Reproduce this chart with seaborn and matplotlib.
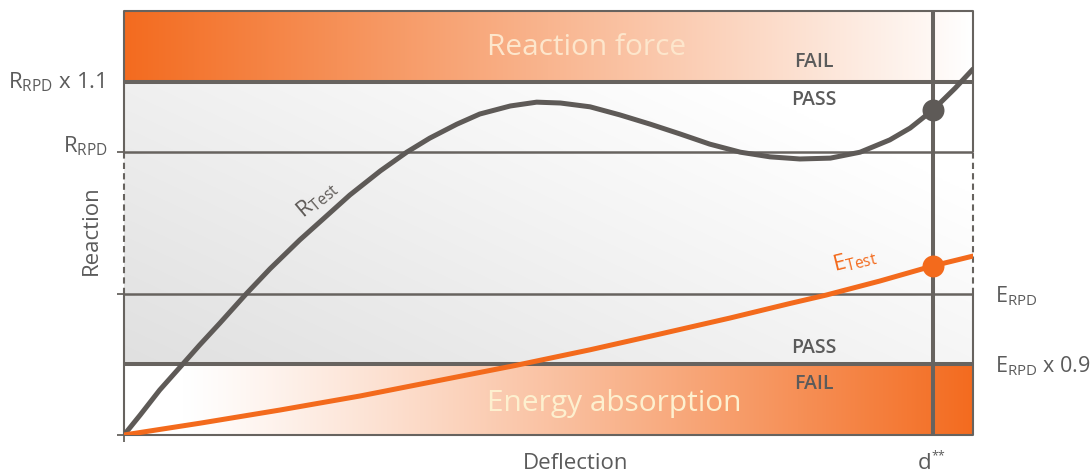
import numpy as np
import pandas as pd
import matplotlib
matplotlib.use("Agg")
import matplotlib.pyplot as plt
import seaborn as sns

# ---- data -------------------------------------------------------------
# Reaction curve R_Test (deflection in % of range, reaction in % of axis)
r_deflection = [0, 1.9, 4.2, 6.6, 8.9, 11.3, 14.4, 17.2, 20.7, 23.6, 26.6,
                30.2, 33.3, 36.0, 39.2, 41.9, 45.5, 48.6, 51.4, 54.9, 58.4,
                62.0, 65.5, 69.0, 72.6, 76.1, 79.6, 83.2, 86.7, 90.2, 92.6,
                95.3, 97.9, 100]
r_reaction = [0, 4.7, 10.6, 16.0, 21.2, 26.4, 33.3, 39.2, 46.0, 51.2, 56.6,
              62.3, 66.7, 70.0, 73.3, 75.7, 77.6, 78.5, 78.3, 77.4, 75.5,
              73.3, 71.0, 68.6, 66.7, 65.6, 65.1, 65.3, 66.7, 69.6, 72.4,
              76.7, 81.8, 86.3]

# Energy curve E_Test
e_deflection = [0, 9.0, 18.4, 27.8, 37.2, 46.1, 54.9, 63.1, 71.4, 78.4,
                82.7, 89.0, 95.3, 100]
e_energy = [0, 2.8, 5.9, 9.2, 12.9, 16.4, 20.1, 23.8, 27.6, 31.0,
            33.0, 36.3, 39.9, 42.2]

# Threshold levels
e_rpd_09 = 16.7
e_rpd = 33.3
r_rpd = 66.7
r_rpd_11 = 83.3
d_star = 95.3

# ---- style ------------------------------------------------------------
sns.set_theme(style="white")
plt.rcParams["font.family"] = ["Open Sans", "DejaVu Sans"]
plt.rcParams["mathtext.fontset"] = "custom"
plt.rcParams["mathtext.rm"] = "Open Sans"
plt.rcParams["mathtext.it"] = "Open Sans:italic"
plt.rcParams["mathtext.bf"] = "Open Sans:bold"

GRAY_LINE = "#5e5a57"
GRID = "#67635f"
ORANGE = "#f36a1c"
TEXT = "#5b5b5b"

fig = plt.figure(figsize=(10.9, 4.77), dpi=100)
ax = fig.add_axes([124 / 1090, 41 / 477, 849 / 1090, 424 / 477])

# ---- background bands -------------------------------------------------
nx = 500
t = np.linspace(0, 1, nx)
orange_rgb = np.array([243, 107, 31]) / 255.0
white = np.ones(3)

w_top = (1 - t)
top_img = white - (white - orange_rgb) * w_top[:, None]
ax.imshow(top_img[None, :, :], extent=[0, 100, r_rpd_11, 100],
          aspect="auto", origin="lower", zorder=0, interpolation="bilinear")

w_bot = np.clip((t - 0.07) / 0.93, 0, 1) ** 1.15
bot_img = white - (white - orange_rgb) * w_bot[:, None]
ax.imshow(bot_img[None, :, :], extent=[0, 100, 0, e_rpd_09],
          aspect="auto", origin="lower", zorder=0, interpolation="bilinear")

ny = 200
tx, ty = np.meshgrid(t, np.linspace(0, 1, ny))
v = (224 + 31 * np.clip(0.7 * tx + 0.5 * ty, 0, 1)) / 255.0
mid_img = np.dstack([v, v, v])
ax.imshow(mid_img, extent=[0, 100, e_rpd_09, r_rpd_11],
          aspect="auto", origin="lower", zorder=0, interpolation="bilinear")

# ---- threshold lines ---------------------------------------------------
ax.axhline(r_rpd_11, color=GRID, lw=2.9, zorder=2)
ax.axhline(e_rpd_09, color=GRID, lw=2.9, zorder=2)
ax.axhline(r_rpd, color=GRID, lw=1.8, zorder=2)
ax.axhline(e_rpd, color=GRID, lw=1.8, zorder=2)
ax.axvline(d_star, color=GRID, lw=2.9, zorder=2)

# frame: solid outside the R_RPD..E_RPD range, dashed inside it
for sp in ax.spines.values():
    sp.set_visible(False)
frame_kw = dict(color=GRID, lw=1.5, zorder=2, clip_on=False)
ax.plot([0, 100], [100, 100], **frame_kw)
ax.plot([0, 100], [0, 0], **frame_kw)
for xx in (0, 100):
    ax.plot([xx, xx], [0, e_rpd], solid_capstyle="butt", **frame_kw)
    ax.plot([xx, xx], [r_rpd, 100], solid_capstyle="butt", **frame_kw)
    ax.plot([xx, xx], [e_rpd, r_rpd], linestyle=(0, (3, 2)), **frame_kw)

# ---- curves -----------------------------------------------------------
df_r = pd.DataFrame({"deflection": r_deflection, "reaction": r_reaction})
df_e = pd.DataFrame({"deflection": e_deflection, "energy": e_energy})

sns.lineplot(data=df_r, x="deflection", y="reaction", color=GRAY_LINE,
             lw=3.6, ax=ax, zorder=3, sort=False, solid_joinstyle="round")
sns.lineplot(data=df_e, x="deflection", y="energy", color=ORANGE,
             lw=3.6, ax=ax, zorder=3, sort=False, solid_joinstyle="round")

dots_r = df_r[df_r["deflection"] == d_star]
dots_e = df_e[df_e["deflection"] == d_star]
sns.scatterplot(data=dots_r, x="deflection", y="reaction", color=GRAY_LINE,
                s=250, linewidth=0, ax=ax, zorder=4)
sns.scatterplot(data=dots_e, x="deflection", y="energy", color=ORANGE,
                s=250, linewidth=0, ax=ax, zorder=4)

ax.set_xlim(0, 100)
ax.set_ylim(0, 100)

# ticks
ax.set_xticks([0])
ax.set_xticklabels([""])
ax.set_yticks([0, e_rpd, r_rpd])
ax.set_yticklabels(["", "", ""])
ax.tick_params(axis="both", direction="out", length=5, width=1.3,
               color=GRID, bottom=True, left=True)
ax.set_xlabel("")
ax.set_ylabel("")

# ---- texts ------------------------------------------------------------
ax.text(54.5, 91.6, "Reaction force", ha="center", va="center",
        fontsize=21.5, color="#fde6cc", zorder=5)
ax.text(57.8, 7.6, "Energy absorption", ha="center", va="center",
        fontsize=21.5, color="#fdf0cf", zorder=5)

for y, s in [(88.2, "FAIL"), (79.2, "PASS"), (20.8, "PASS"), (12.3, "FAIL")]:
    ax.text(81.2, y, s, ha="center", va="center", fontsize=14,
            fontweight="semibold", color=TEXT, zorder=5)

ax.text(22.7, 55.8, r"R$_{\mathrm{Test}}$", ha="center", va="center",
        rotation=40, fontsize=16, color=GRAY_LINE, zorder=5)
ax.text(86.1, 41.4, r"E$_{\mathrm{Test}}$", ha="center", va="center",
        rotation=14, fontsize=16, color=ORANGE, zorder=5)

ax.text(-2.3, 82.0, r"R$_{\mathrm{RPD}}$ x 1.1", ha="right", va="baseline",
        fontsize=16, color=TEXT, clip_on=False, zorder=5)
ax.text(-1.9, 66.8, r"R$_{\mathrm{RPD}}$", ha="right", va="baseline",
        fontsize=16, color=TEXT, clip_on=False, zorder=5)
ax.text(102.6, 31.6, r"E$_{\mathrm{RPD}}$", ha="left", va="baseline",
        fontsize=15.5, color=TEXT, clip_on=False, zorder=5)
ax.text(102.6, 14.9, r"E$_{\mathrm{RPD}}$ x 0.9", ha="left", va="baseline",
        fontsize=15.5, color=TEXT, clip_on=False, zorder=5)

ax.text(-3.8, 48.6, "Reaction", ha="center", va="center", rotation=90,
        fontsize=16, color=TEXT, clip_on=False)
ax.text(53.2, -6.6, "Deflection", ha="center", va="center",
        fontsize=16, color=TEXT, clip_on=False)
ax.text(95.1, -6.6, "d", ha="right", va="center",
        fontsize=16, color=TEXT, clip_on=False)
ax.text(95.1, -4.6, "**", ha="left", va="center",
        fontsize=9, color=TEXT, clip_on=False)

fig.savefig("out.png", dpi=100, facecolor="white")
